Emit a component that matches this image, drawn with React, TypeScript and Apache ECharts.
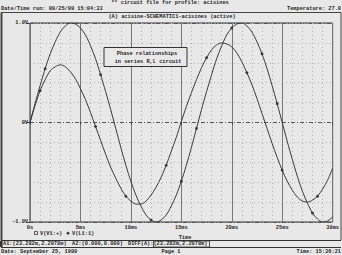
import React, { useEffect, useRef } from "react";
import * as echarts from "echarts";

const timeMs = [0, 0.5, 1, 1.5, 2, 2.5, 3, 3.5, 4, 4.5, 5, 5.5, 6, 6.5, 7, 7.5, 8, 8.5, 9, 9.5, 10, 10.5, 11, 11.5, 12, 12.5, 13, 13.5, 14, 14.5, 15, 15.5, 16, 16.5, 17, 17.5, 18, 18.5, 19, 19.5, 20, 20.5, 21, 21.5, 22, 22.5, 23, 23.5, 24, 24.5, 25, 25.5, 26, 26.5, 27, 27.5, 28, 28.5, 29, 29.5, 30];

const vSource = [0, 0.19, 0.37, 0.54, 0.69, 0.81, 0.91, 0.97, 1.0, 0.99, 0.95, 0.88, 0.77, 0.64, 0.48, 0.31, 0.13, -0.06, -0.25, -0.43, -0.59, -0.73, -0.84, -0.93, -0.98, -1.0, -0.98, -0.93, -0.84, -0.73, -0.59, -0.43, -0.25, -0.06, 0.13, 0.31, 0.48, 0.64, 0.77, 0.88, 0.95, 0.99, 1.0, 0.97, 0.91, 0.81, 0.69, 0.54, 0.37, 0.19, 0, -0.19, -0.37, -0.54, -0.69, -0.81, -0.91, -0.97, -1.0, -0.99, -0.95];

const vInductor = [0, 0.17, 0.32, 0.43, 0.52, 0.56, 0.58, 0.56, 0.51, 0.44, 0.34, 0.23, 0.10, -0.04, -0.18, -0.32, -0.45, -0.56, -0.66, -0.74, -0.79, -0.82, -0.82, -0.79, -0.73, -0.65, -0.55, -0.43, -0.29, -0.15, 0.01, 0.16, 0.30, 0.43, 0.55, 0.65, 0.73, 0.78, 0.80, 0.79, 0.76, 0.70, 0.61, 0.50, 0.38, 0.24, 0.09, -0.06, -0.21, -0.35, -0.48, -0.59, -0.68, -0.75, -0.79, -0.80, -0.78, -0.74, -0.67, -0.58, -0.46];

const sourceMarkerIdx = [3, 14, 24, 30, 33, 40, 46, 49, 56];
const inductorMarkerIdx = [2, 13, 19, 27, 35, 43, 50, 57];

const xTickLabels = ["0s", "5ms", "10ms", "15ms", "20ms", "25ms", "30ms"];
const yTickLabels: Record<string, string> = { "1": "1.0V", "0": "0V", "-1": "-1.0V" };

const seriesNames = ["V(V1:+)", "V(L1:1)"];

const FONT = "Liberation Mono";
const FS = 5.3;
const INK = "#262626";

export default function App() {
  const ref = useRef<HTMLDivElement>(null);
  useEffect(() => {
    if (!ref.current) return;
    const chart = echarts.init(ref.current, null, { renderer: "svg" });
    const pairs = (vals: number[]) => vals.map((v, i) => [timeMs[i], v]);
    const txt = (x: number, y: number, text: string, align = "left", extra: any = {}) => ({
      type: "text",
      x,
      y,
      style: { text, fontFamily: FONT, fontSize: FS, fill: INK, align, verticalAlign: "middle", fontWeight: "bold", ...extra },
    });
    chart.setOption({
      animation: false,
      backgroundColor: "#e8e8e8",
      grid: { left: 30, right: 2, top: 23, bottom: 33, show: true, borderColor: "#333", borderWidth: 1 },
      xAxis: {
        type: "value",
        min: 0,
        max: 30,
        interval: 5,
        axisLine: { show: false },
        axisTick: { show: true, length: 2, lineStyle: { color: "#333" } },
        axisLabel: {
          fontFamily: FONT,
          fontSize: FS,
          fontWeight: "bold",
          color: INK,
          margin: 3,
          formatter: (v: number) => xTickLabels[Math.round(v / 5)] ?? "",
        },
        splitLine: { show: true, lineStyle: { color: "#777", width: 1 } },
        minorTick: { show: false, splitNumber: 5 },
        minorSplitLine: { show: true, lineStyle: { color: "#b4b4b4", type: [1, 3], width: 1 } },
      },
      yAxis: {
        type: "value",
        min: -1,
        max: 1,
        interval: 1,
        axisLine: { show: false },
        axisTick: { show: true, length: 3, lineStyle: { color: "#333" } },
        axisLabel: {
          fontFamily: FONT,
          fontSize: FS,
          fontWeight: "bold",
          color: INK,
          margin: 2,
          formatter: (v: number) => yTickLabels[String(Math.round(v))] ?? "",
        },
        splitLine: { show: true, lineStyle: { color: "#555", width: 1, type: [4, 2, 1, 2] } },
        minorTick: { show: false, splitNumber: 5 },
        minorSplitLine: { show: true, lineStyle: { color: "#b4b4b4", type: [1, 3], width: 1 } },
      },
      series: [
        {
          name: seriesNames[0],
          type: "line",
          data: pairs(vSource),
          smooth: 0.3,
          symbol: "rect",
          showAllSymbol: true,
          symbolSize: (_v: any, p: any) => (sourceMarkerIdx.includes(p.dataIndex) ? 2.5 : 0),
          itemStyle: { color: "#333" },
          lineStyle: { color: "#3a3a3a", width: 1 },
        },
        {
          name: seriesNames[1],
          type: "line",
          data: pairs(vInductor),
          smooth: 0.3,
          symbol: "diamond",
          showAllSymbol: true,
          symbolSize: (_v: any, p: any) => (inductorMarkerIdx.includes(p.dataIndex) ? 3.5 : 0),
          itemStyle: { color: "#333" },
          lineStyle: { color: "#3a3a3a", width: 1 },
        },
      ],
      graphic: [
        // header
        txt(170, 2.5, "** circuit file for profile: acisines", "center"),
        txt(1, 8.5, "Date/Time run: 09/25/99 15:04:33"),
        txt(341, 8.5, "Temperature: 27.0", "right"),
        { type: "line", shape: { x1: 1, y1: 12.5, x2: 341, y2: 12.5 }, style: { stroke: "#444", lineWidth: 1 } },
        { type: "line", shape: { x1: 1.5, y1: 12.5, x2: 1.5, y2: 240.5 }, style: { stroke: "#444", lineWidth: 2 } },
        { type: "line", shape: { x1: 341, y1: 12.5, x2: 341, y2: 240.5 }, style: { stroke: "#444", lineWidth: 1 } },
        txt(172, 16.5, "(A) acisine-SCHEMATIC1-acisines (active)", "center"),
        // annotation box
        {
          type: "rect",
          shape: { x: 104, y: 47.5, width: 83, height: 19 },
          style: { fill: "#e8e8e8", stroke: "#333", lineWidth: 1 },
          z: 10,
        },
        { ...txt(147, 53.5, "Phase relationships", "center"), z: 11 },
        { ...txt(148, 61.5, "in series R,L circuit", "center"), z: 11 },
        // legend + x axis title
        { type: "rect", shape: { x: 34.5, y: 231.5, width: 3, height: 3 }, style: { fill: "none", stroke: "#333", lineWidth: 0.8 } },
        txt(40, 233.5, seriesNames[0]),
        { type: "polygon", shape: { points: [[68, 231.5], [69.8, 233.3], [68, 235.1], [66.2, 233.3]] }, style: { fill: "#333" } },
        txt(72, 233.5, seriesNames[1]),
        txt(185, 237.5, "Time", "center"),
        // cursor row
        { type: "line", shape: { x1: 1, y1: 240.5, x2: 341, y2: 240.5 }, style: { stroke: "#333", lineWidth: 1 } },
        { type: "line", shape: { x1: 1, y1: 247.5, x2: 341, y2: 247.5 }, style: { stroke: "#333", lineWidth: 1 } },
        { type: "rect", shape: { x: 0, y: 241, width: 2.5, height: 6 }, style: { fill: "#333" } },
        txt(3, 244, "A1:(23.282m,2.2078m)"),
        txt(72, 244, "A2:(0.000,0.000)"),
        txt(128, 244, "DIFF(A):(23.282m,2.2078m)"),
        { type: "rect", shape: { x: 153.5, y: 241, width: 56, height: 6 }, style: { fill: "none", stroke: "#333", lineWidth: 0.8 } },
        // footer
        txt(1, 251.5, "Date: September 25, 1999"),
        txt(171, 251.5, "Page 1", "center"),
        txt(341, 251.5, "Time: 15:36:21", "right"),
      ],
    });
    return () => chart.dispose();
  }, []);
  return <div ref={ref} style={{ position: "fixed", left: 0, top: 0, width: 342, height: 255 }} />;
}
